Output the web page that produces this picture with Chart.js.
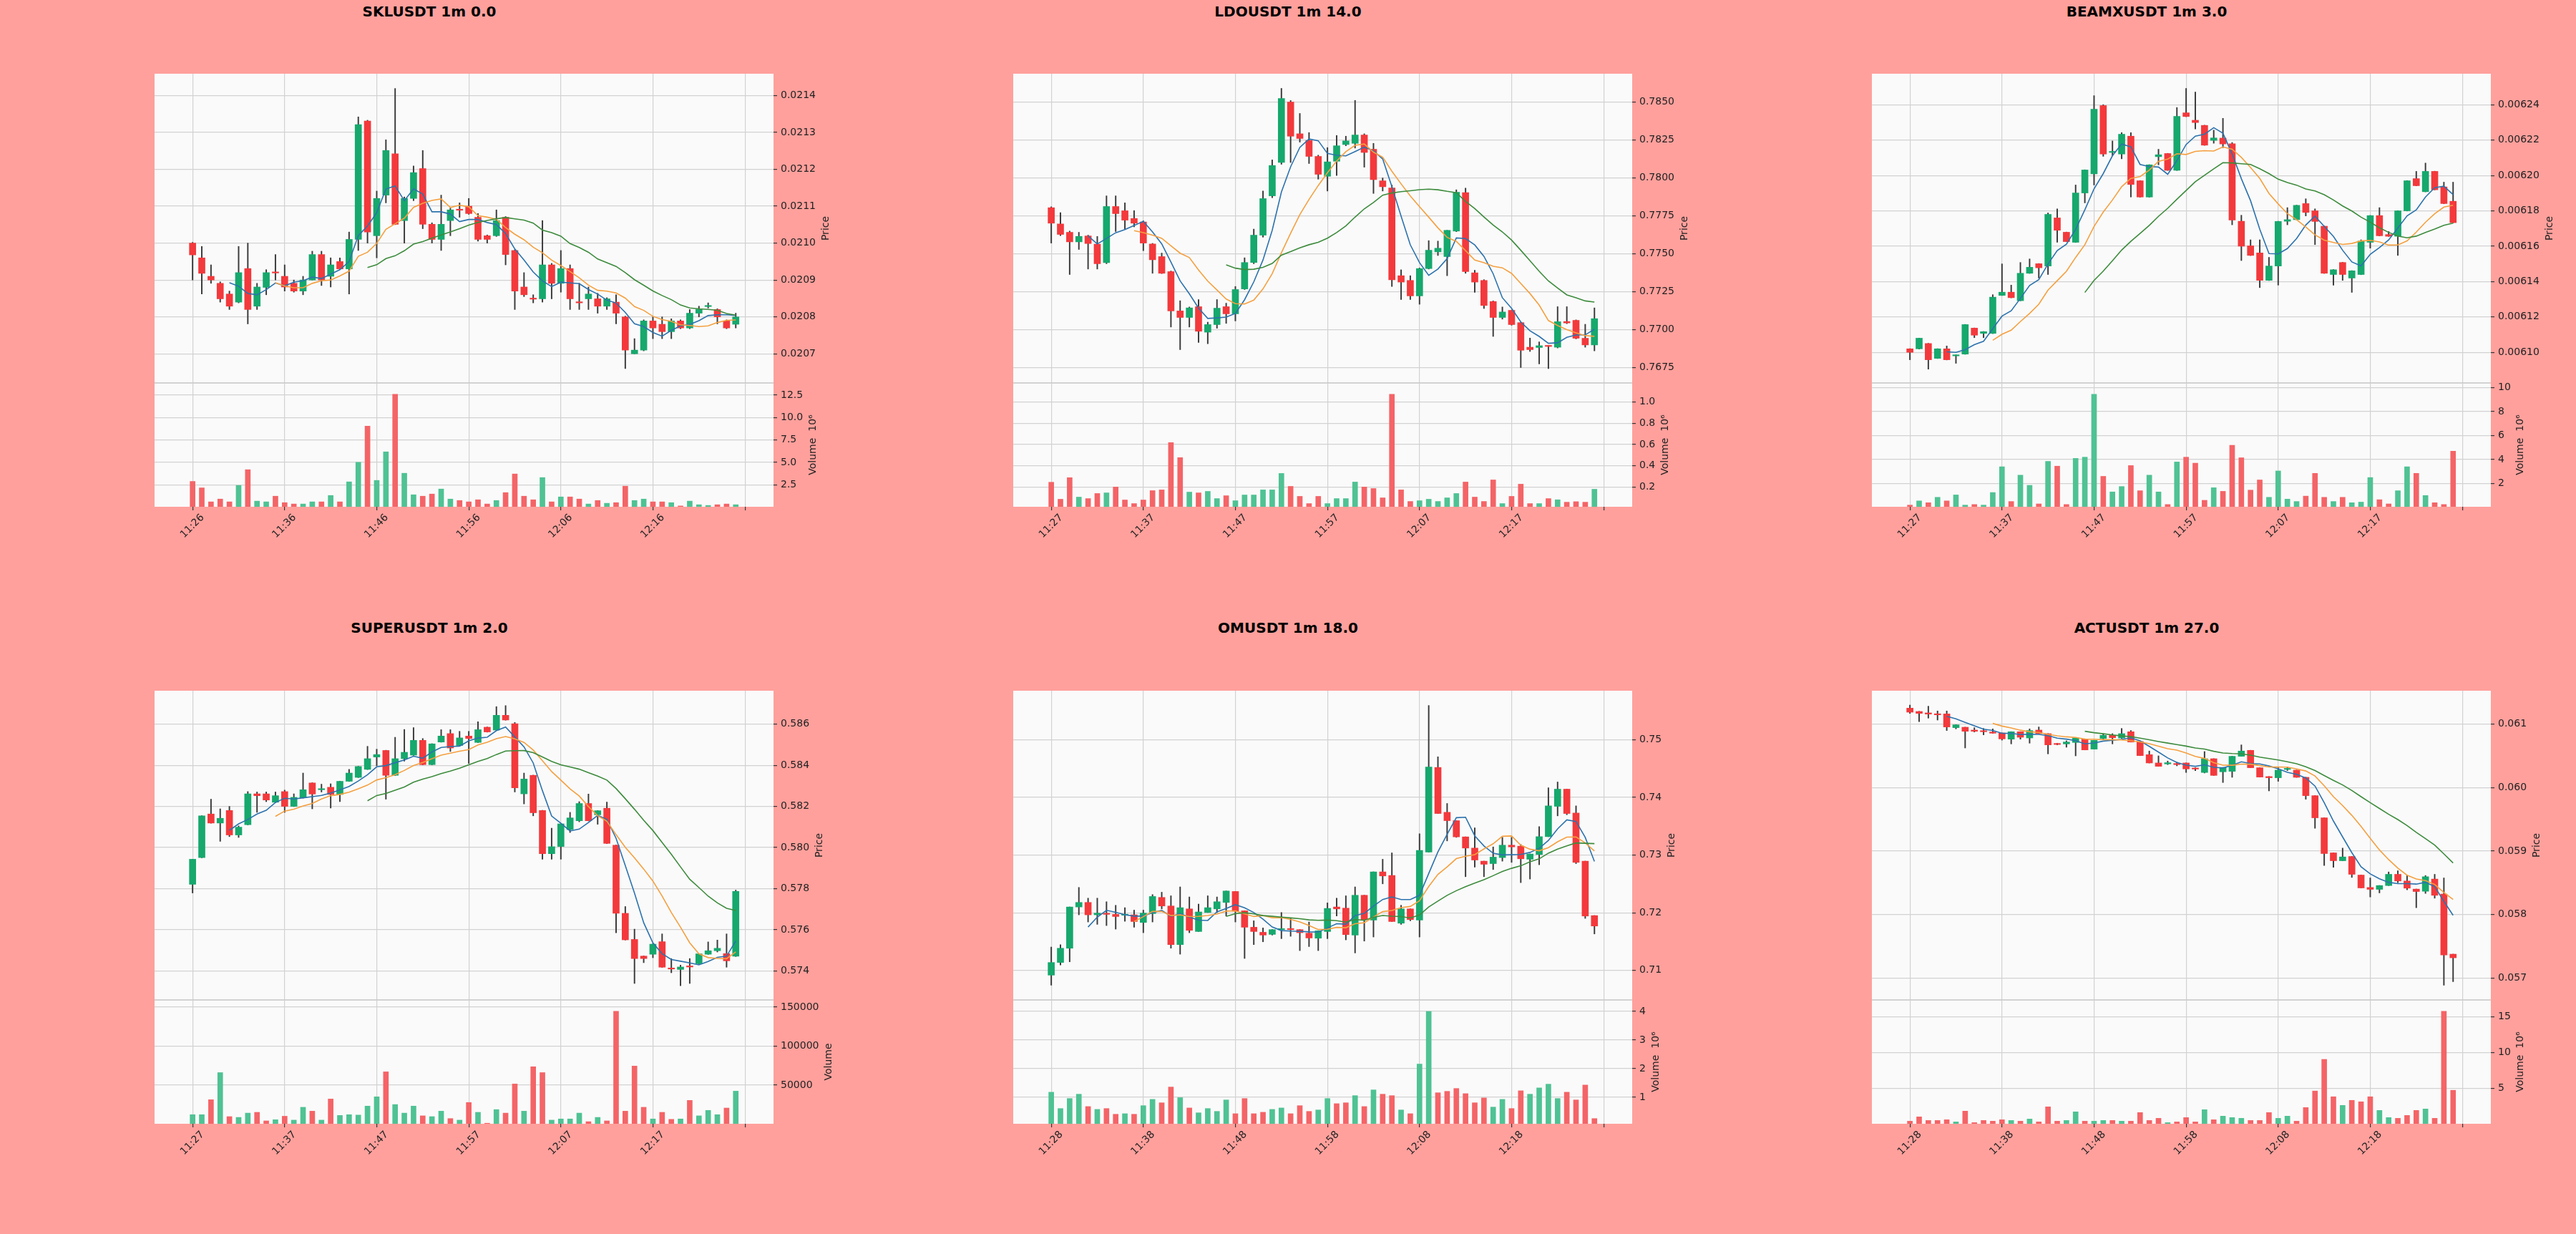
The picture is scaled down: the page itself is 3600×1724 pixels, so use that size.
<!DOCTYPE html>
<html lang="en">
<head>
<meta charset="UTF-8">
<title>1m candles</title>
<script src="https://cdn.jsdelivr.net/npm/chart.js@4.4.0/dist/chart.umd.min.js"></script>
<style>
  body { margin: 0; width: 3600px; height: 1724px; background: #ffa09c; position: relative; overflow: hidden; }
  canvas { position: absolute; }
  .title { position: absolute; font: bold 20px "DejaVu Sans", sans-serif; color: #000; transform: translate(-50%, -50%); white-space: nowrap; }
</style>
</head>
<body>
<script>
// ---- SKLUSDT ----
const sklOpen = [0.021000,0.020960,0.020910,0.020891,0.020862,0.020840,0.020931,0.020829,0.020880,0.020920,0.020910,0.020891,0.020870,0.020900,0.020969,0.020910,0.020950,0.020930,0.021010,0.021331,0.021020,0.021130,0.021242,0.021061,0.021121,0.021202,0.021051,0.021010,0.021061,0.021090,0.021100,0.021070,0.021020,0.021020,0.021070,0.020980,0.020881,0.020850,0.020849,0.020941,0.020891,0.020931,0.020840,0.020849,0.020849,0.020829,0.020840,0.020800,0.020700,0.020710,0.020789,0.020780,0.020760,0.020789,0.020770,0.020810,0.020828,0.020820,0.020789,0.020780];
const sklHigh = [0.021002,0.020991,0.020941,0.020895,0.020870,0.020991,0.021000,0.020891,0.020928,0.020969,0.020941,0.020900,0.020910,0.020978,0.020978,0.020960,0.020960,0.021030,0.021342,0.021333,0.021141,0.021280,0.021419,0.021125,0.021209,0.021251,0.021055,0.021130,0.021095,0.021109,0.021121,0.021080,0.021022,0.021090,0.021072,0.020982,0.020920,0.020860,0.021061,0.020945,0.020980,0.020941,0.020891,0.020881,0.020864,0.020852,0.020860,0.020802,0.020741,0.020792,0.020800,0.020800,0.020795,0.020792,0.020820,0.020829,0.020838,0.020822,0.020792,0.020810];
const sklLow = [0.020900,0.020862,0.020891,0.020840,0.020820,0.020838,0.020781,0.020820,0.020860,0.020900,0.020870,0.020867,0.020860,0.020900,0.020885,0.020881,0.020928,0.020862,0.020980,0.021000,0.020960,0.021109,0.021050,0.021000,0.021115,0.021039,0.021000,0.020980,0.021020,0.021070,0.021078,0.021005,0.021000,0.021018,0.020941,0.020820,0.020855,0.020838,0.020840,0.020849,0.020867,0.020820,0.020820,0.020820,0.020810,0.020820,0.020781,0.020660,0.020700,0.020708,0.020741,0.020741,0.020741,0.020768,0.020768,0.020800,0.020824,0.020781,0.020768,0.020770];
const sklClose = [0.020968,0.020918,0.020900,0.020849,0.020829,0.020920,0.020820,0.020881,0.020920,0.020919,0.020881,0.020870,0.020900,0.020969,0.020900,0.020941,0.020930,0.021010,0.021321,0.021030,0.021121,0.021251,0.021051,0.021121,0.021191,0.021051,0.021010,0.021051,0.021090,0.021089,0.021080,0.021010,0.021010,0.021061,0.020969,0.020870,0.020860,0.020848,0.020941,0.020891,0.020931,0.020849,0.020838,0.020862,0.020829,0.020849,0.020810,0.020710,0.020710,0.020789,0.020770,0.020760,0.020789,0.020770,0.020810,0.020820,0.020829,0.020800,0.020770,0.020800];
const sklVol = [2.87,2.15,0.59,0.90,0.59,2.42,4.18,0.67,0.59,1.22,0.50,0.35,0.35,0.59,0.59,1.30,0.59,2.82,5.00,9.04,2.98,6.17,12.60,3.78,1.38,1.22,1.46,2.02,0.90,0.74,0.59,0.82,0.35,0.74,1.62,3.70,1.22,0.82,3.30,0.59,1.14,1.14,0.90,0.35,0.74,0.43,0.50,2.34,0.74,0.90,0.59,0.59,0.50,0.13,0.67,0.27,0.19,0.27,0.35,0.27]; // x10^6
const sklPriceTicks = ['0.0207','0.0208','0.0209','0.0210','0.0211','0.0212','0.0213','0.0214'];
const sklVolTicks = ['2.5','5.0','7.5','10.0','12.5'];

// ---- LDOUSDT ----
const ldoOpen = [0.77804,0.77697,0.77642,0.77579,0.77618,0.77564,0.77442,0.77812,0.77784,0.77733,0.77710,0.77565,0.77482,0.77383,0.77124,0.77081,0.77152,0.76984,0.77034,0.77152,0.77105,0.77269,0.77443,0.77623,0.77882,0.78102,0.78500,0.78291,0.78247,0.78142,0.78011,0.78110,0.78220,0.78228,0.78283,0.78189,0.77981,0.77934,0.77356,0.77325,0.77223,0.77403,0.77513,0.77482,0.77650,0.77903,0.77375,0.77325,0.77186,0.77081,0.77128,0.77047,0.76885,0.76883,0.76893,0.76885,0.77054,0.77062,0.76944,0.76900];
const ldoHigh = [0.77810,0.77772,0.77650,0.77642,0.77623,0.77615,0.77882,0.77882,0.77836,0.77785,0.77717,0.77569,0.77505,0.77387,0.77191,0.77150,0.77199,0.77050,0.77199,0.77175,0.77285,0.77474,0.77663,0.77914,0.78119,0.78590,0.78510,0.78425,0.78299,0.78150,0.78200,0.78280,0.78275,0.78511,0.78291,0.78228,0.78000,0.77953,0.77395,0.77356,0.77407,0.77587,0.77584,0.77655,0.77922,0.77933,0.77392,0.77330,0.77190,0.77150,0.77130,0.77050,0.76945,0.76920,0.76896,0.77152,0.77152,0.77065,0.77036,0.77144];
const ldoLow = [0.77571,0.77620,0.77364,0.77529,0.77400,0.77400,0.77435,0.77647,0.77663,0.77678,0.77521,0.77372,0.77370,0.77018,0.76869,0.77018,0.76916,0.76908,0.77010,0.77042,0.77058,0.77265,0.77435,0.77610,0.77870,0.78090,0.78102,0.78236,0.78095,0.77992,0.77914,0.78016,0.78212,0.78197,0.78071,0.77898,0.77914,0.77285,0.77199,0.77199,0.77168,0.77400,0.77489,0.77356,0.77646,0.77372,0.77246,0.77140,0.76956,0.77070,0.77030,0.76751,0.76857,0.76775,0.76744,0.76880,0.77040,0.76940,0.76885,0.76861];
const ldoClose = [0.77702,0.77628,0.77579,0.77615,0.77568,0.77435,0.77812,0.77765,0.77722,0.77702,0.77571,0.77461,0.77372,0.77124,0.77081,0.77144,0.76990,0.77034,0.77142,0.77105,0.77265,0.77443,0.77623,0.77864,0.78082,0.78524,0.78275,0.78260,0.78142,0.78024,0.78106,0.78212,0.78244,0.78283,0.78168,0.77989,0.77942,0.77329,0.77314,0.77223,0.77403,0.77524,0.77537,0.77655,0.77906,0.77383,0.77314,0.77160,0.77081,0.77117,0.77034,0.76865,0.76869,0.76895,0.76890,0.77053,0.77045,0.76944,0.76900,0.77073];
const ldoVol = [0.244,0.084,0.287,0.104,0.090,0.138,0.144,0.199,0.077,0.043,0.077,0.165,0.172,0.618,0.476,0.151,0.144,0.158,0.090,0.117,0.070,0.124,0.124,0.172,0.172,0.327,0.205,0.111,0.043,0.111,0.043,0.090,0.090,0.246,0.199,0.185,0.097,1.072,0.172,0.063,0.070,0.084,0.063,0.097,0.138,0.246,0.104,0.063,0.266,0.043,0.111,0.226,0.043,0.043,0.090,0.079,0.056,0.061,0.056,0.178]; // x10^6
const ldoPriceTicks = ['0.7675','0.7700','0.7725','0.7750','0.7775','0.7800','0.7825','0.7850'];
const ldoVolTicks = ['0.2','0.4','0.6','0.8','1.0'];

// ---- BEAMXUSDT ----
const beamOpen = [0.0061020,0.0061020,0.0061050,0.0060966,0.0061020,0.0060980,0.0060990,0.0061137,0.0061107,0.0061107,0.0061322,0.0061340,0.0061292,0.0061447,0.0061501,0.0061488,0.0061760,0.0061679,0.0061622,0.0061901,0.0062009,0.0062395,0.0062130,0.0062121,0.0062222,0.0061970,0.0061878,0.0062106,0.0062124,0.0062029,0.0062354,0.0062312,0.0062283,0.0062198,0.0062211,0.0062179,0.0061741,0.0061602,0.0061562,0.0061407,0.0061488,0.0061741,0.0061750,0.0061841,0.0061800,0.0061713,0.0061440,0.0061508,0.0061420,0.0061440,0.0061622,0.0061773,0.0061666,0.0061656,0.0061800,0.0061982,0.0061908,0.0062023,0.0061935,0.0061854];
const beamHigh = [0.0061021,0.0061081,0.0061051,0.0061021,0.0061036,0.0060986,0.0061158,0.0061138,0.0061118,0.0061326,0.0061500,0.0061380,0.0061508,0.0061528,0.0061502,0.0061788,0.0061811,0.0061680,0.0061946,0.0062032,0.0062451,0.0062400,0.0062195,0.0062242,0.0062242,0.0061971,0.0062061,0.0062148,0.0062125,0.0062384,0.0062492,0.0062471,0.0062284,0.0062256,0.0062323,0.0062186,0.0061775,0.0061636,0.0061636,0.0061537,0.0061741,0.0061818,0.0061832,0.0061868,0.0061811,0.0061714,0.0061468,0.0061509,0.0061462,0.0061636,0.0061774,0.0061818,0.0061683,0.0061801,0.0061971,0.0062023,0.0062070,0.0062024,0.0061962,0.0061962];
const beamLow = [0.0060958,0.0061019,0.0060905,0.0060965,0.0060957,0.0060938,0.0060989,0.0061083,0.0061083,0.0061106,0.0061321,0.0061308,0.0061291,0.0061446,0.0061420,0.0061440,0.0061622,0.0061625,0.0061621,0.0061845,0.0061946,0.0062108,0.0062112,0.0062094,0.0061878,0.0061877,0.0061877,0.0062060,0.0062028,0.0062028,0.0062332,0.0062263,0.0062170,0.0062182,0.0062157,0.0061721,0.0061519,0.0061547,0.0061366,0.0061406,0.0061380,0.0061721,0.0061749,0.0061771,0.0061609,0.0061446,0.0061380,0.0061407,0.0061339,0.0061439,0.0061589,0.0061658,0.0061655,0.0061548,0.0061799,0.0061941,0.0061907,0.0061918,0.0061840,0.0061732];
const beamClose = [0.0061000,0.0061080,0.0060958,0.0061020,0.0060958,0.0060984,0.0061157,0.0061097,0.0061117,0.0061312,0.0061340,0.0061309,0.0061447,0.0061481,0.0061478,0.0061780,0.0061690,0.0061626,0.0061901,0.0062031,0.0062374,0.0062121,0.0062131,0.0062233,0.0061949,0.0061878,0.0062060,0.0062117,0.0062029,0.0062334,0.0062333,0.0062299,0.0062171,0.0062212,0.0062178,0.0061748,0.0061600,0.0061548,0.0061407,0.0061488,0.0061740,0.0061750,0.0061831,0.0061791,0.0061740,0.0061447,0.0061467,0.0061440,0.0061461,0.0061629,0.0061773,0.0061659,0.0061656,0.0061800,0.0061970,0.0061942,0.0062023,0.0061919,0.0061841,0.0061733];
const beamVol = [0.20,0.55,0.40,0.85,0.55,1.05,0.20,0.25,0.20,1.25,3.40,0.50,2.70,1.85,0.30,3.85,3.45,0.25,4.10,4.20,9.45,2.60,1.30,1.75,3.50,1.40,2.70,1.30,0.25,3.80,4.20,3.70,0.60,1.65,1.35,5.20,4.15,1.45,2.30,0.85,3.05,0.70,0.50,0.95,2.85,0.85,0.50,0.85,0.40,0.45,2.50,0.65,0.30,1.40,3.40,2.85,1.00,0.40,0.25,4.70]; // x10^6
const beamPriceTicks = ['0.00610','0.00612','0.00614','0.00616','0.00618','0.00620','0.00622','0.00624'];
const beamVolTicks = ['2','4','6','8','10'];

// ---- SUPERUSDT ----
const superOpen = [0.57821,0.57951,0.58163,0.58119,0.58180,0.58061,0.58111,0.58261,0.58261,0.58220,0.58272,0.58200,0.58242,0.58314,0.58281,0.58293,0.58258,0.58322,0.58341,0.58380,0.58440,0.58472,0.58351,0.58432,0.58449,0.58521,0.58403,0.58513,0.58554,0.58496,0.58542,0.58511,0.58585,0.58571,0.58643,0.58602,0.58261,0.58351,0.58180,0.57970,0.58005,0.58087,0.58130,0.58214,0.58159,0.58191,0.58011,0.57680,0.57553,0.57472,0.57481,0.57542,0.57410,0.57407,0.57420,0.57435,0.57481,0.57498,0.57484,0.57471];
const superHigh = [0.57943,0.58155,0.58235,0.58188,0.58200,0.58105,0.58272,0.58270,0.58270,0.58270,0.58279,0.58261,0.58362,0.58315,0.58308,0.58310,0.58323,0.58380,0.58395,0.58492,0.58478,0.58473,0.58536,0.58574,0.58583,0.58530,0.58505,0.58573,0.58573,0.58565,0.58565,0.58612,0.58586,0.58685,0.58690,0.58608,0.58362,0.58352,0.58181,0.58094,0.58116,0.58171,0.58223,0.58260,0.58180,0.58221,0.58012,0.57713,0.57603,0.57473,0.57533,0.57580,0.57460,0.57428,0.57460,0.57484,0.57541,0.57550,0.57580,0.57793];
const superLow = [0.57779,0.57950,0.58118,0.58030,0.58053,0.58049,0.58110,0.58171,0.58223,0.58219,0.58171,0.58199,0.58240,0.58188,0.58270,0.58192,0.58223,0.58321,0.58340,0.58379,0.58397,0.58235,0.58350,0.58420,0.58448,0.58402,0.58402,0.58512,0.58467,0.58492,0.58409,0.58510,0.58561,0.58570,0.58619,0.58270,0.58212,0.58154,0.57943,0.57943,0.57943,0.58073,0.58125,0.58129,0.58113,0.58019,0.57585,0.57550,0.57339,0.57440,0.57464,0.57417,0.57391,0.57328,0.57339,0.57434,0.57480,0.57492,0.57418,0.57470];
const superClose = [0.57943,0.58154,0.58119,0.58142,0.58061,0.58099,0.58261,0.58252,0.58231,0.58252,0.58200,0.58244,0.58281,0.58260,0.58282,0.58258,0.58322,0.58362,0.58394,0.58432,0.58452,0.58351,0.58432,0.58463,0.58521,0.58403,0.58504,0.58542,0.58484,0.58533,0.58530,0.58573,0.58562,0.58643,0.58620,0.58290,0.58333,0.58169,0.57970,0.58004,0.58115,0.58144,0.58214,0.58130,0.58179,0.58020,0.57680,0.57551,0.57460,0.57460,0.57530,0.57418,0.57409,0.57419,0.57419,0.57483,0.57498,0.57510,0.57449,0.57787];
const superVol = [12000,12000,31200,66000,9500,8500,14000,15000,4000,5500,10000,5000,21500,16500,5000,32100,11000,12000,11500,23000,34900,67000,25000,14000,23000,10500,9500,16500,7000,5000,27600,15000,1000,18500,14000,51400,16500,73500,66000,5000,6500,6500,14000,3000,8500,4000,144800,16500,74400,21500,6500,15000,6000,6500,30300,10500,17500,12000,20500,42200];
const superPriceTicks = ['0.574','0.576','0.578','0.580','0.582','0.584','0.586'];
const superVolTicks = ['50000','100000','150000'];

// ---- OMUSDT ----
const omOpen = [0.70918,0.71137,0.71384,0.72099,0.72178,0.71963,0.71980,0.71971,0.71955,0.71963,0.71831,0.71984,0.72265,0.72116,0.71447,0.72066,0.71674,0.72004,0.72066,0.72178,0.72368,0.72033,0.71748,0.71661,0.71624,0.71705,0.71710,0.71707,0.71645,0.71558,0.71674,0.72099,0.72079,0.71612,0.72302,0.71872,0.72707,0.72645,0.71818,0.72066,0.71872,0.73050,0.74517,0.73740,0.73595,0.73314,0.73120,0.72893,0.72851,0.72955,0.73170,0.73153,0.72926,0.73008,0.73318,0.73843,0.74141,0.73727,0.72893,0.71950];
const omHigh = [0.71405,0.71446,0.72100,0.72438,0.72252,0.72252,0.72190,0.72128,0.72087,0.72045,0.72045,0.72314,0.72355,0.72293,0.72447,0.72273,0.72149,0.72293,0.72273,0.72377,0.72369,0.72034,0.71860,0.71736,0.71708,0.72004,0.71901,0.71708,0.71839,0.71687,0.72170,0.72252,0.72293,0.72447,0.72303,0.72708,0.72926,0.73037,0.72128,0.72067,0.73368,0.75591,0.74702,0.73893,0.73596,0.73315,0.73471,0.72894,0.73140,0.73306,0.73306,0.73182,0.73018,0.73492,0.74165,0.74265,0.74142,0.73851,0.72894,0.71951];
const omLow = [0.70744,0.71095,0.71149,0.71963,0.71839,0.71798,0.71777,0.71715,0.71851,0.71748,0.71653,0.71839,0.72066,0.71385,0.71281,0.71653,0.71673,0.72003,0.72004,0.71942,0.71839,0.71207,0.71447,0.71496,0.71612,0.71550,0.71591,0.71343,0.71413,0.71343,0.71550,0.71942,0.71529,0.71302,0.71508,0.71579,0.72500,0.71846,0.71798,0.71860,0.71579,0.73049,0.73718,0.73244,0.73306,0.72624,0.72789,0.72624,0.72748,0.72893,0.72872,0.72521,0.72583,0.72831,0.73317,0.73678,0.73698,0.72851,0.71901,0.71632];
const omClose = [0.71137,0.71384,0.72099,0.72178,0.71963,0.71992,0.71971,0.71934,0.71959,0.71847,0.71992,0.72281,0.72116,0.71447,0.72087,0.71694,0.72013,0.72087,0.72190,0.72376,0.72025,0.71748,0.71674,0.71612,0.71707,0.71709,0.71706,0.71653,0.71562,0.71686,0.72074,0.72066,0.71620,0.72302,0.71880,0.72707,0.72637,0.71847,0.72066,0.71880,0.73078,0.74525,0.73719,0.73595,0.73314,0.73120,0.72913,0.72839,0.72963,0.73170,0.73140,0.72934,0.73017,0.73318,0.73851,0.74141,0.73719,0.72872,0.71942,0.71769];
const omVol = [1.18,0.61,0.96,1.11,0.68,0.58,0.61,0.41,0.43,0.41,0.71,0.93,0.81,1.36,0.99,0.63,0.46,0.61,0.51,0.91,0.43,0.96,0.43,0.48,0.58,0.63,0.43,0.71,0.51,0.56,0.96,0.78,0.81,1.06,0.68,1.26,1.11,1.06,0.56,0.43,2.16,4.00,1.16,1.21,1.31,1.13,0.81,0.98,0.66,0.93,0.61,1.23,1.11,1.33,1.46,0.96,1.18,0.91,1.43,0.26]; // x10^6
const omPriceTicks = ['0.71','0.72','0.73','0.74','0.75'];
const omVolTicks = ['1','2','3','4'];

// ---- ACTUSDT ----
const actOpen = [0.061252,0.061199,0.061177,0.061162,0.061161,0.060944,0.060951,0.060906,0.060895,0.060876,0.060861,0.060763,0.060880,0.060782,0.060906,0.060850,0.060683,0.060688,0.060711,0.060767,0.060606,0.060775,0.060823,0.060782,0.060880,0.060726,0.060519,0.060388,0.060373,0.060380,0.060388,0.060296,0.060238,0.060455,0.060249,0.060256,0.060493,0.060587,0.060313,0.060174,0.060155,0.060286,0.060275,0.060162,0.059873,0.059524,0.058972,0.058848,0.058915,0.058622,0.058427,0.058397,0.058457,0.058634,0.058529,0.058401,0.058367,0.058559,0.058322,0.057376];
const actHigh = [0.061300,0.061200,0.061282,0.061207,0.061207,0.060990,0.060952,0.060944,0.060932,0.060925,0.060862,0.060881,0.060881,0.060925,0.060955,0.060851,0.060700,0.060737,0.060783,0.060768,0.060746,0.060850,0.060850,0.060932,0.060899,0.060727,0.060576,0.060500,0.060418,0.060399,0.060389,0.060313,0.060568,0.060456,0.060318,0.060494,0.060673,0.060588,0.060314,0.060175,0.060324,0.060324,0.060276,0.060163,0.059874,0.059525,0.058973,0.059047,0.058916,0.058623,0.058577,0.058458,0.058671,0.058690,0.058615,0.058402,0.058615,0.058634,0.058577,0.057377];
const actLow = [0.061169,0.061038,0.061094,0.061064,0.060899,0.060925,0.060624,0.060876,0.060831,0.060856,0.060748,0.060688,0.060763,0.060700,0.060849,0.060531,0.060673,0.060636,0.060500,0.060593,0.060605,0.060756,0.060688,0.060775,0.060717,0.060503,0.060387,0.060334,0.060362,0.060343,0.060238,0.060268,0.060230,0.060191,0.060080,0.060162,0.060492,0.060312,0.060165,0.059948,0.060099,0.060268,0.060161,0.059817,0.059359,0.058773,0.058746,0.058847,0.058585,0.058419,0.058277,0.058341,0.058456,0.058502,0.058390,0.058108,0.058333,0.058258,0.056887,0.056943];
const actClose = [0.061188,0.061169,0.061158,0.061146,0.060955,0.060989,0.060887,0.060887,0.060880,0.060857,0.060767,0.060880,0.060793,0.060899,0.060850,0.060673,0.060679,0.060718,0.060782,0.060594,0.060745,0.060823,0.060786,0.060850,0.060718,0.060504,0.060388,0.060335,0.060392,0.060362,0.060294,0.060292,0.060455,0.060192,0.060317,0.060493,0.060576,0.060313,0.060166,0.060155,0.060275,0.060289,0.060162,0.059873,0.059524,0.058961,0.058848,0.058908,0.058634,0.058420,0.058397,0.058457,0.058634,0.058529,0.058416,0.058363,0.058596,0.058303,0.057364,0.057319];
const actVol = [0.43,1.03,0.53,0.53,0.63,0.33,1.83,0.23,0.53,0.43,0.63,0.53,0.43,0.73,0.33,2.43,0.43,0.53,1.73,0.43,0.43,0.53,0.53,0.43,0.43,1.63,0.53,0.83,0.23,0.33,0.93,0.33,2.03,0.63,1.13,0.93,0.83,0.53,0.53,1.63,0.83,1.13,0.43,2.33,4.63,9.03,3.83,2.63,3.33,3.13,3.83,1.93,0.93,0.83,1.23,1.93,2.13,0.83,15.73,4.73]; // x10^6
const actPriceTicks = ['0.057','0.058','0.059','0.060','0.061'];
const actVolTicks = ['5','10','15'];

// time axis labels (one every 10 bars, last tick unlabeled)
const timeTicks26 = ['11:26','11:36','11:46','11:56','12:06','12:16',''];
const timeTicks27 = ['11:27','11:37','11:47','11:57','12:07','12:17',''];
const timeTicks28 = ['11:28','11:38','11:48','11:58','12:08','12:18',''];

const panels = [
  { title: 'SKLUSDT 1m 0.0', o: sklOpen, h: sklHigh, l: sklLow, c: sklClose, v: sklVol, pr: [0.020621, 0.021459], pt: sklPriceTicks, vt: sklVolTicks, vlabel: 'Volume  10⁶', tt: timeTicks26 },
  { title: 'LDOUSDT 1m 14.0', o: ldoOpen, h: ldoHigh, l: ldoLow, c: ldoClose, v: ldoVol, pr: [0.766496, 0.786866], pt: ldoPriceTicks, vt: ldoVolTicks, vlabel: 'Volume  10⁶', tt: timeTicks27 },
  { title: 'BEAMXUSDT 1m 3.0', o: beamOpen, h: beamHigh, l: beamLow, c: beamClose, v: beamVol, pr: [0.0060827, 0.0062575], pt: beamPriceTicks, vt: beamVolTicks, vlabel: 'Volume  10⁶', tt: timeTicks27 },
  { title: 'SUPERUSDT 1m 2.0', o: superOpen, h: superHigh, l: superLow, c: superClose, v: superVol, pr: [0.572588, 0.587624], pt: superPriceTicks, vt: superVolTicks, vlabel: 'Volume', tt: timeTicks27 },
  { title: 'OMUSDT 1m 18.0', o: omOpen, h: omHigh, l: omLow, c: omClose, v: omVol, pr: [0.70488, 0.758467], pt: omPriceTicks, vt: omVolTicks, vlabel: 'Volume  10⁶', tt: timeTicks28 },
  { title: 'ACTUSDT 1m 27.0', o: actOpen, h: actHigh, l: actLow, c: actClose, v: actVol, pr: [0.056655, 0.061526], pt: actPriceTicks, vt: actVolTicks, vlabel: 'Volume  10⁶', tt: timeTicks28 }
];

// layout
const colLeft = [216, 1416, 2616];
const titleX = [600, 1800, 3000];
const rowTop = [103, 965];
const titleY = [16, 877];
const PLOT_W = 865, PRICE_H = 432, VOL_H = 173, AXIS_W = 160, XAXIS_H = 90, PAD = 12;
const X_MIN = -4.13, X_MAX = 63.1;
const X_TICKS = [0, 10, 20, 30, 40, 50, 60];

const UP = '#16a86d', DOWN = '#f3393c', VOL_UP = '#4fc293', VOL_DOWN = '#f46467', WICK = '#3a3a3a';
const MA_COLORS = ['#2c72ad', '#f5a040', '#3d8b3d'];
const GRID = '#d2d2d2';

Chart.defaults.font.family = '"DejaVu Sans", sans-serif';
Chart.defaults.font.size = 14;
Chart.defaults.color = '#222';

// plot area background + optional separator line
Chart.register({
  id: 'plotBg',
  beforeDraw(chart, args, opts) {
    const { ctx, chartArea: a } = chart;
    ctx.save();
    ctx.fillStyle = '#fafafa';
    ctx.fillRect(a.left, a.top, a.width, a.height);
    if (opts.topLine) {
      ctx.strokeStyle = '#c4c4c4';
      ctx.lineWidth = 1.5;
      ctx.beginPath();
      ctx.moveTo(a.left, a.top);
      ctx.lineTo(a.right, a.top);
      ctx.stroke();
    }
    ctx.restore();
  }
});

// matplotlib-style right-hand y label, reading bottom to top
Chart.register({
  id: 'sideTitle',
  afterDraw(chart, args, opts) {
    if (!opts.text) return;
    const { ctx, chartArea: a } = chart;
    ctx.save();
    ctx.font = '14px "DejaVu Sans", sans-serif';
    let w = 0;
    chart.scales.y.ticks.forEach(t => { w = Math.max(w, ctx.measureText(t.label).width); });
    ctx.translate(a.right + 10 + w + 6 + 8, (a.top + a.bottom) / 2);
    ctx.rotate(-Math.PI / 2);
    ctx.textAlign = 'center';
    ctx.textBaseline = 'middle';
    ctx.fillStyle = '#222';
    ctx.fillText(opts.text, 0, 0);
    ctx.restore();
  }
});

function sma(values, n) {
  const out = [];
  for (let i = n - 1; i < values.length; i++) {
    let s = 0;
    for (let k = i - n + 1; k <= i; k++) s += values[k];
    out.push({ x: i, y: s / n });
  }
  return out;
}

function makeCanvas(left, top, w, h) {
  const cv = document.createElement('canvas');
  cv.width = w; cv.height = h;
  cv.style.left = left + 'px';
  cv.style.top = top + 'px';
  document.body.appendChild(cv);
  return cv;
}

function xScale(showLabels, labels) {
  return {
    type: 'linear', min: X_MIN, max: X_MAX, offset: false,
    afterBuildTicks: s => { s.ticks = X_TICKS.map(v => ({ value: v })); },
    ticks: showLabels
      ? { autoSkip: false, minRotation: 45, maxRotation: 45, labelOffset: 14, padding: 2, callback: (v, i) => labels[i] }
      : { display: false },
    grid: { color: GRID, lineWidth: 1.2, offset: false, drawTicks: showLabels, tickLength: 5, tickColor: '#333' },
    border: { display: false },
    afterFit: s => { s.height = showLabels ? XAXIS_H : 0; s.paddingLeft = 0; s.paddingRight = 0; }
  };
}

function yScale(min, max, labels) {
  return {
    position: 'right', min: min, max: max,
    afterBuildTicks: s => { s.ticks = labels.map(t => ({ value: parseFloat(t) })); },
    ticks: { autoSkip: false, padding: 5, callback: (v, i) => labels[i] },
    grid: { color: GRID, lineWidth: 1.2, tickLength: 5, tickColor: '#333' },
    border: { display: false },
    afterFit: s => { s.width = AXIS_W; s.paddingTop = 0; s.paddingBottom = 0; }
  };
}

panels.forEach((p, k) => {
  const col = k % 3, row = Math.floor(k / 3);
  const left = colLeft[col], top = rowTop[row];
  const up = p.o.map((o, i) => p.c[i] >= o);

  const t = document.createElement('div');
  t.className = 'title';
  t.textContent = p.title;
  t.style.left = titleX[col] + 'px';
  t.style.top = titleY[row] + 'px';
  document.body.appendChild(t);

  // price panel: wicks, bodies, moving averages
  new Chart(makeCanvas(left, top - PAD, PLOT_W + AXIS_W, PRICE_H + PAD), {
    type: 'bar',
    data: {
      datasets: [
        { data: p.l.map((l, i) => ({ x: i, y: [l, p.h[i]] })), backgroundColor: WICK, barThickness: 1.3, grouped: false, order: 5 },
        { data: p.o.map((o, i) => ({ x: i, y: [Math.min(o, p.c[i]), Math.max(o, p.c[i])] })),
          backgroundColor: up.map(u => u ? UP : DOWN), barThickness: 9, minBarLength: 1.5, grouped: false, order: 4 },
        { type: 'line', data: sma(p.c, 5), borderColor: MA_COLORS[0], borderWidth: 1.6, pointRadius: 0, order: 3 },
        { type: 'line', data: sma(p.c, 10), borderColor: MA_COLORS[1], borderWidth: 1.6, pointRadius: 0, order: 2 },
        { type: 'line', data: sma(p.c, 20), borderColor: MA_COLORS[2], borderWidth: 1.6, pointRadius: 0, order: 1 }
      ]
    },
    options: {
      responsive: false, animation: false,
      layout: { padding: { top: PAD } },
      plugins: { legend: { display: false }, tooltip: { enabled: false }, sideTitle: { text: 'Price' } },
      scales: { x: xScale(false), y: yScale(p.pr[0], p.pr[1], p.pt) }
    }
  });

  // volume panel
  new Chart(makeCanvas(left, top + PRICE_H - PAD, PLOT_W + AXIS_W, VOL_H + XAXIS_H + PAD), {
    type: 'bar',
    data: {
      datasets: [
        { data: p.v.map((v, i) => ({ x: i, y: v })), backgroundColor: up.map(u => u ? VOL_UP : VOL_DOWN), barThickness: 7, grouped: false }
      ]
    },
    options: {
      responsive: false, animation: false,
      layout: { padding: { top: PAD } },
      plugins: { legend: { display: false }, tooltip: { enabled: false }, plotBg: { topLine: true }, sideTitle: { text: p.vlabel } },
      scales: { x: xScale(true, p.tt), y: yScale(0.3 * Math.min(...p.v), 1.1 * Math.max(...p.v), p.vt) }
    }
  });
});
</script>
</body>
</html>
